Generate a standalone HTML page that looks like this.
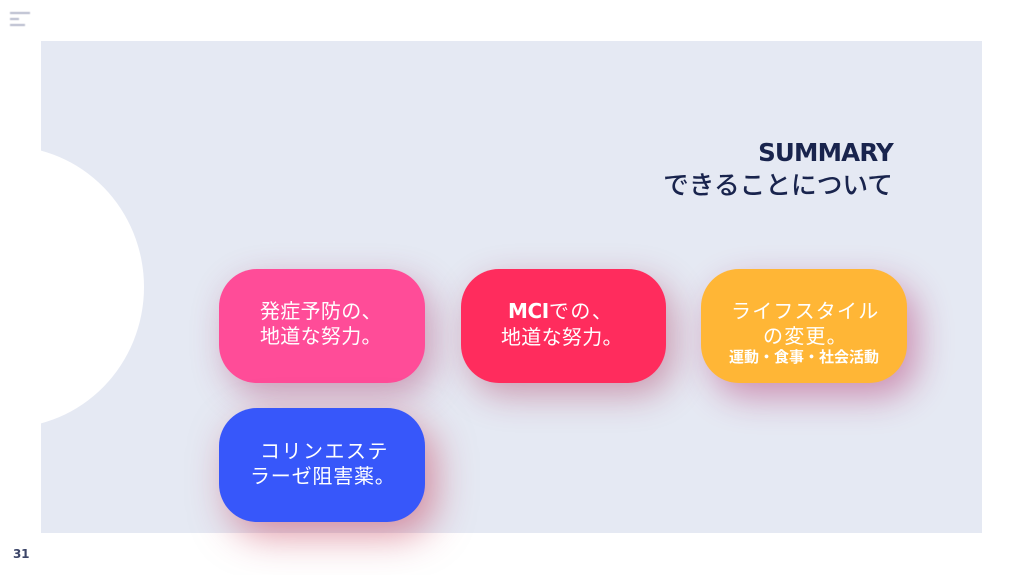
<!DOCTYPE html>
<html lang="ja">
<head>
<meta charset="utf-8">
<style>
html,body{margin:0;padding:0;background:#fff;}
#s{position:relative;width:1024px;height:575px;overflow:hidden;background:#fff;font-family:"Liberation Sans","Noto Sans CJK JP",sans-serif;}
#bg{position:absolute;left:41px;top:41px;width:941px;height:492px;background:#e5e9f3;}
#c{position:absolute;left:-132px;top:146px;width:276px;height:282px;border-radius:50%;background:#fff;clip-path:inset(0 0 0 173px);}
.b{position:absolute;width:206px;height:114px;border-radius:38px;}
.t{position:absolute;color:#fff;white-space:nowrap;font-size:20px;line-height:25px;font-family:"WenQuanYi Zen Hei","Noto Sans CJK JP",sans-serif;}
.bar{position:absolute;height:2px;background:#b4b8cb;left:10px;filter:blur(.4px);}
</style>
</head>
<body>
<div id="s">
<div class="bar" style="top:12px;width:20px"></div>
<div class="bar" style="top:18px;width:9px"></div>
<div class="bar" style="top:24px;width:15px"></div>
<div id="bg"></div>
<div id="c"></div>
<div class="b" style="left:219px;top:269px;background:#ff4c98;box-shadow:8px 12px 34px rgba(170,50,100,.42)"></div>
<div class="b" style="left:461px;top:269px;width:205px;background:#ff2c5d;box-shadow:8px 12px 34px rgba(170,45,85,.42)"></div>
<div class="b" style="left:701px;top:269px;background:#ffb636;box-shadow:10px 14px 34px rgba(180,50,110,.48)"></div>
<div class="b" style="left:219px;top:408px;background:#3757fa;box-shadow:10px 14px 38px rgba(195,50,80,.5)"></div>
<div style="position:absolute;left:600px;top:138px;width:293px;text-align:right;font-size:24.5px;line-height:30px;font-weight:bold;color:#19244d;font-family:'DejaVu Sans',sans-serif;letter-spacing:-.8px;">SUMMARY</div>
<div style="position:absolute;left:600px;top:168px;width:293px;text-align:right;font-size:25.7px;line-height:32px;font-weight:500;color:#19244d;font-family:'Noto Sans CJK JP',sans-serif;white-space:nowrap;">できることについて</div>
<div class="t" style="left:260px;top:297px;letter-spacing:.3px">発症予防の、<br>地道な努力。</div>
<div class="t" style="left:501px;top:297px;letter-spacing:.3px"><span style="font:bold 20px 'DejaVu Sans',sans-serif;margin-left:7px;letter-spacing:-.4px">MCI</span><span style="letter-spacing:1.5px">での、</span><br>地道な努力。</div>
<div class="t" style="left:731px;top:297px;letter-spacing:1.2px">ライフスタイル<br><span style="margin-left:32px">の変更。</span></div>
<div class="t" style="left:729px;top:348px;font-size:15px;line-height:18px;font-weight:bold;font-family:'Noto Sans CJK JP',sans-serif;">運動・食事・社会活動</div>
<div class="t" style="left:260px;top:437px;letter-spacing:1.5px">コリンエステ<br><span style="margin-left:-10px;letter-spacing:.8px">ラーゼ阻害薬。</span></div>
<div style="position:absolute;left:13px;top:546px;font-size:12px;line-height:16px;font-weight:bold;color:#3c4568;font-family:'DejaVu Sans',sans-serif;letter-spacing:-.2px;">31</div>
</div>
</body>
</html>
